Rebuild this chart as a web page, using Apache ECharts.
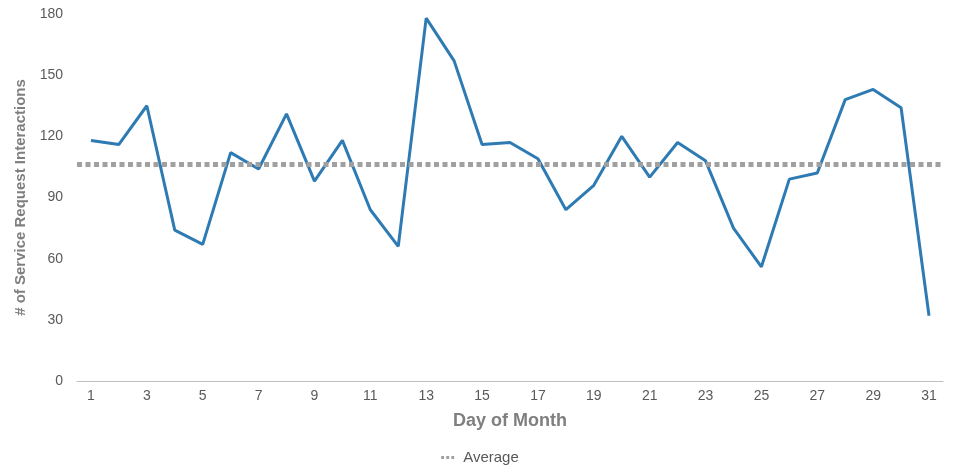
<!DOCTYPE html>
<html>
<head>
<meta charset="utf-8">
<script src="https://cdn.jsdelivr.net/npm/echarts@6/dist/echarts.min.js"></script>
<style>
html,body{margin:0;padding:0;background:#fff;}
#chart{width:960px;height:472px;}
</style>
</head>
<body>
<div id="chart"></div>
<script>
const days = ['1','2','3','4','5','6','7','8','9','10','11','12','13','14','15','16','17','18','19','20','21','22','23','24','25','26','27','28','29','30','31'];
const interactions = [118,116,135,74,67,112,104,131,98,118,84,66,178,157,116,117,109,84,96,120,100,117,108,75,56,99,102,138,143,134,32];
const averageValue = 106.5;
const yTicks = [0,30,60,90,120,150,180];

const font = 'Liberation Sans, Arial, sans-serif';
const chart = echarts.init(document.getElementById('chart'));
chart.setOption({
  animation: false,
  textStyle: { fontFamily: font },
  grid: { left: 77, right: 17, top: 14, bottom: 91, containLabel: false },
  legend: {
    data: [{ name: 'Average', icon: 'path://M0,0h4v4h-4z M7,0h4v4h-4z M14,0h4v4h-4z' }],
    bottom: 2,
    left: 'center',
    itemWidth: 13,
    itemHeight: 4,
    itemGap: 8,
    textStyle: { color: '#595959', fontSize: 15, fontFamily: font, padding: [0, 0, 0, 4] }
  },
  xAxis: {
    type: 'category',
    data: days,
    boundaryGap: true,
    name: 'Day of Month',
    nameLocation: 'middle',
    nameGap: 31,
    nameTextStyle: { color: '#7f7f7f', fontSize: 18, fontWeight: 'bold' },
    axisLine: { lineStyle: { color: '#bfbfbf', width: 1 } },
    axisTick: { show: false },
    axisLabel: { interval: 1, color: '#595959', fontSize: 14, margin: 8 }
  },
  yAxis: {
    type: 'value',
    min: yTicks[0],
    max: yTicks[yTicks.length - 1],
    interval: 30,
    name: '# of Service Request Interactions',
    nameLocation: 'middle',
    nameGap: 46,
    nameTextStyle: { color: '#7f7f7f', fontSize: 15, fontWeight: 'bold' },
    axisLine: { show: false },
    axisTick: { show: false },
    splitLine: { show: false },
    axisLabel: { color: '#595959', fontSize: 14, margin: 14 }
  },
  series: [
    {
      name: 'Interactions',
      type: 'line',
      data: interactions,
      symbol: 'none',
      lineStyle: { color: '#2e7bb4', width: 3 },
      itemStyle: { color: '#2e7bb4' },
      z: 3
    },
    {
      name: 'Average',
      type: 'line',
      data: [],
      symbol: 'none',
      lineStyle: { color: '#a0a0a0', width: 5, type: [5, 3.5] },
      itemStyle: { color: '#a0a0a0' },
      markLine: {
        silent: true,
        symbol: 'none',
        label: { show: false },
        lineStyle: { color: '#a0a0a0', width: 5, type: [5, 3.5] },
        data: [{ yAxis: averageValue }]
      },
      z: 2
    }
  ]
});
</script>
</body>
</html>
